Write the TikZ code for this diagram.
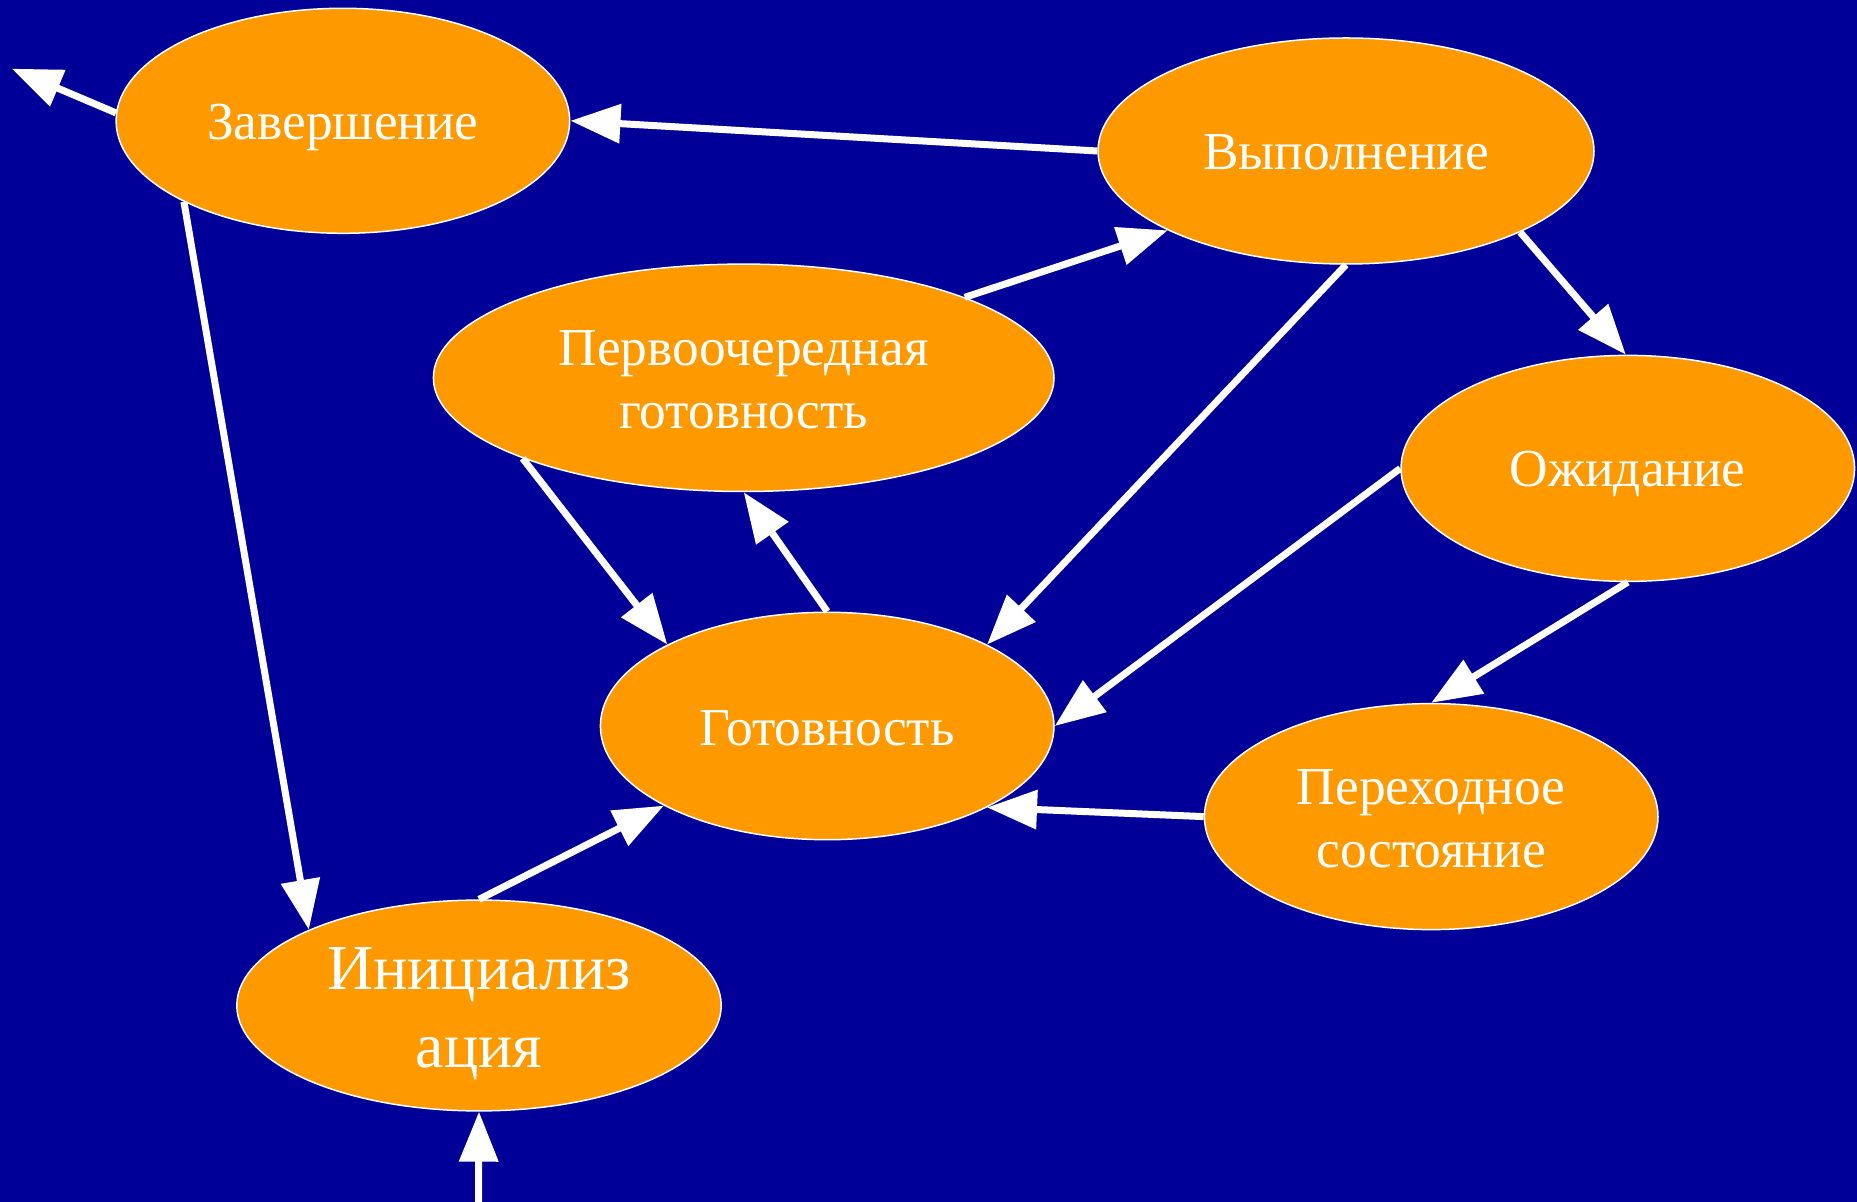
\documentclass[tikz,border=0pt]{standalone}
\usepackage{fontspec}
\setmainfont{Liberation Serif}
\usetikzlibrary{shapes.geometric,arrows.meta}
\definecolor{bgnavy}{RGB}{0,0,153}
\definecolor{stateorange}{RGB}{255,153,0}
\begin{document}
\begin{tikzpicture}[x=0.5pt,y=-0.5pt,
  state/.style={ellipse, draw=white, line width=0.75pt, fill=stateorange,
    inner sep=0pt},
  caption/.style={text=white, inner sep=0pt, align=center,
    font=\fontsize{26.7}{31.7}\selectfont},
  conn/.style={draw=white, line width=3.5pt,
    -{Triangle[length=25pt,width=19pt]}}]
  % background
  \fill[bgnavy] (0,0) rectangle (1857,1202);
  \useasboundingbox (0,0) rectangle (1857,1202);

  % states
  \node[state, minimum width=226.8pt, minimum height=112.5pt,
        label={[caption, yshift=-3.5pt]center:Завершение}] (zav) at (342.9,120.8) {};
  \node[state, minimum width=248pt, minimum height=113pt,
        label={[caption, yshift=-0.8pt]center:Выполнение}] (vyp) at (1346,151) {};
  \node[state, minimum width=310.3pt, minimum height=113.7pt,
        label={[caption, yshift=-1pt]center:Первоочередная\\готовность}] (perv) at (743.7,377.8) {};
  \node[state, minimum width=226.8pt, minimum height=113pt,
        label={[caption, yshift=-3pt]center:Ожидание}] (ozh) at (1627.8,468.4) {};
  \node[state, minimum width=226.8pt, minimum height=113.7pt,
        label={[caption, yshift=-1pt]center:Готовность}] (got) at (827.2,726) {};
  \node[state, minimum width=226.8pt, minimum height=113pt,
        label={[caption, yshift=-1pt]center:Переходное\\состояние}] (per) at (1431.2,816.6) {};
  \node[state, minimum width=242.2pt, minimum height=105.4pt,
        label={[caption, yshift=-4pt, font=\fontsize{32}{39}\selectfont]center:Инициализ\\ация}] (ini) at (479,1005.5) {};

  % free ends
  \coordinate (exit) at (11.8,68.7);
  \coordinate (entry) at (478.5,1202);

  % transitions
  \draw[conn] (zav.178) -- (exit);
  \draw[conn] (vyp.west) -- (zav.east);
  \draw[conn] (zav.207) -- (ini.156);
  \draw[conn] (perv.20) -- (vyp.204);
  \draw[conn] (vyp.335) -- (ozh.91);
  \draw[conn] (vyp.south) -- (got.27);
  \draw[conn] (perv.200) -- (got.153);
  \draw[conn] (got.north) -- (perv.south);
  \draw[conn] (ozh.west) -- (got.east);
  \draw[conn] (ozh.south) -- (per.north);
  \draw[conn] (per.west) -- (got.333);
  \draw[conn] (ini.north) -- (got.206);
  \draw[conn] (entry) -- (ini.south);
\end{tikzpicture}
\end{document}
